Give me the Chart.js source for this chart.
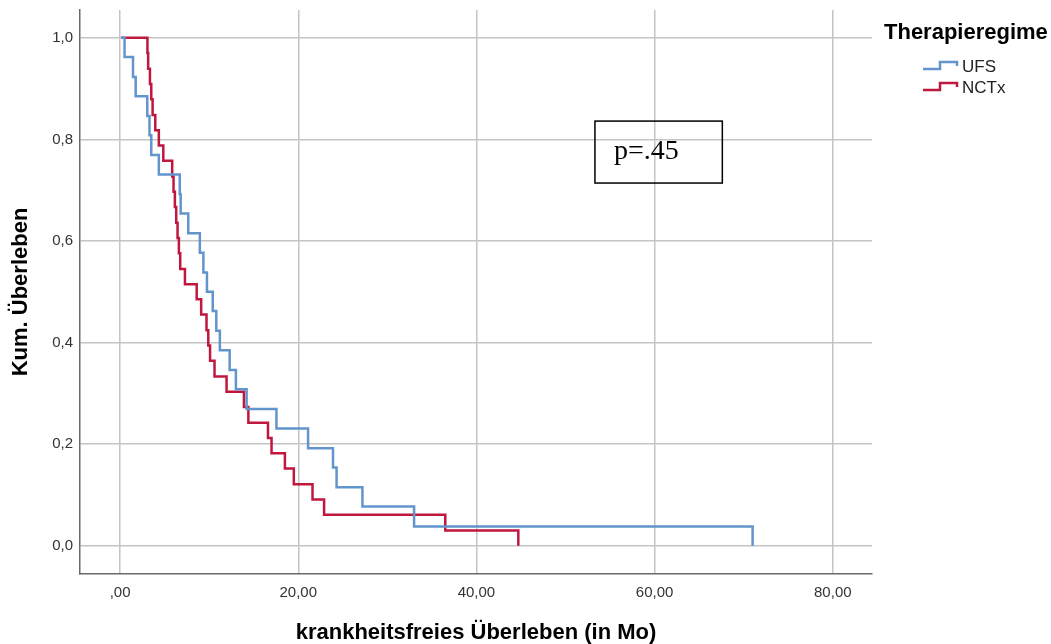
<!DOCTYPE html>
<html>
<head>
<meta charset="utf-8">
<script src="https://cdn.jsdelivr.net/npm/chart.js@4/dist/chart.umd.min.js"></script>
<style>
  html, body { margin: 0; padding: 0; background: #ffffff; }
  #wrap { position: relative; width: 1051px; height: 644px; }
</style>
</head>
<body>
<div id="wrap"><canvas id="c"></canvas></div>
<script>
// ---- data ----
const seriesNames = ['UFS', 'NCTx'];
const legendTitle = 'Therapieregime';
const pValueText = 'p=.45';
const xAxisTitle = 'krankheitsfreies Überleben (in Mo)';
const yAxisTitle = 'Kum. Überleben';

const ufsTime = [0.1, 0.5, 1.45, 1.75, 3.05, 3.3, 3.5, 4.35, 6.7, 6.8, 7.65, 8.95, 9.35, 9.75,
  10.4, 10.8, 11.2, 12.3, 13.0, 14.2, 17.55, 21.1, 23.9, 24.3, 27.2, 33.0, 71.0];
const ufsSurv = [1.0, 0.962, 0.923, 0.885, 0.846, 0.808, 0.769, 0.731, 0.692, 0.654, 0.615, 0.577, 0.538, 0.5,
  0.462, 0.423, 0.385, 0.346, 0.308, 0.269, 0.231, 0.192, 0.154, 0.115, 0.077, 0.038, 0.0];

const nctTime = [0.1, 3.07, 3.15, 3.35, 3.5, 3.65, 3.95, 4.35, 4.85, 5.85, 6.0, 6.15, 6.3, 6.45, 6.6, 6.75,
  7.28, 8.6, 9.1, 9.7, 9.9, 10.1, 10.6, 11.95, 13.9, 14.4, 16.6, 17.0, 18.5, 19.5, 21.6, 22.9, 36.5, 44.7];
const nctSurv = [1.0, 0.970, 0.939, 0.909, 0.879, 0.848, 0.818, 0.788, 0.758, 0.727, 0.697, 0.667, 0.636, 0.606, 0.576, 0.545,
  0.515, 0.485, 0.455, 0.424, 0.394, 0.364, 0.333, 0.303, 0.273, 0.242, 0.212, 0.182, 0.152, 0.121, 0.091, 0.061, 0.030, 0.0];

const xTickValues = [0, 20, 40, 60, 80];
const xTickLabels = [',00', '20,00', '40,00', '60,00', '80,00'];
const yTickValues = [0, 0.2, 0.4, 0.6, 0.8, 1.0];
const yTickLabels = ['0,0', '0,2', '0,4', '0,6', '0,8', '1,0'];

// annotation box corners in data units
const pBoxX = [53.3, 67.6];
const pBoxY = [0.836, 0.714];

// ---- styling ----
const colors = ['#6295cc', '#c0173f'];
const FONT = "'Liberation Sans', Arial, sans-serif";

function toPoints(t, s) { return t.map((v, i) => ({ x: v, y: s[i] })); }

const extras = {
  id: 'extras',
  afterDraw(chart) {
    const ctx = chart.ctx;
    const xs = chart.scales.x, ys = chart.scales.y;
    ctx.save();
    // p-value box
    const bx0 = xs.getPixelForValue(pBoxX[0]), bx1 = xs.getPixelForValue(pBoxX[1]);
    const by0 = ys.getPixelForValue(pBoxY[0]), by1 = ys.getPixelForValue(pBoxY[1]);
    ctx.strokeStyle = '#000';
    ctx.lineWidth = 1.5;
    ctx.strokeRect(bx0, by0, bx1 - bx0, by1 - by0);
    ctx.fillStyle = '#000';
    ctx.font = "28px 'Liberation Serif', 'Times New Roman', serif";
    ctx.textBaseline = 'alphabetic';
    ctx.textAlign = 'left';
    ctx.fillText(pValueText, bx0 + 19, by0 + 38);

    // legend
    const lx = chart.chartArea.right + 12;
    ctx.font = "bold 22px " + FONT;
    ctx.fillStyle = '#000';
    ctx.textBaseline = 'middle';
    ctx.fillText(legendTitle, lx, 33);
    ctx.font = "17px " + FONT;
    const rows = [67, 88];
    seriesNames.forEach((name, i) => {
      const y = rows[i];
      ctx.strokeStyle = colors[i];
      ctx.lineWidth = 2.5;
      ctx.beginPath();
      ctx.moveTo(lx + 39, y + 2);
      ctx.lineTo(lx + 56, y + 2);
      ctx.lineTo(lx + 56, y - 5);
      ctx.lineTo(lx + 73, y - 5);
      ctx.lineTo(lx + 73, y - 1);
      ctx.stroke();
      ctx.fillStyle = '#222';
      ctx.fillText(name, lx + 78, y);
    });
    ctx.restore();
  }
};

function noPad(scale) {
  scale.paddingTop = 0; scale.paddingBottom = 0;
  scale.paddingLeft = 0; scale.paddingRight = 0;
}

new Chart(document.getElementById('c'), {
  type: 'line',
  data: {
    datasets: [
      { label: seriesNames[0], data: toPoints(ufsTime, ufsSurv), borderColor: colors[0], backgroundColor: colors[0],
        borderWidth: 2.5, stepped: 'before', pointRadius: 0, fill: false },
      { label: seriesNames[1], data: toPoints(nctTime, nctSurv), borderColor: colors[1], backgroundColor: colors[1],
        borderWidth: 2.5, stepped: 'before', pointRadius: 0, fill: false }
    ]
  },
  options: {
    responsive: true,
    maintainAspectRatio: false,
    animation: false,
    devicePixelRatio: 1,
    layout: { padding: { left: 0, top: 10, right: 179, bottom: 0 } },
    plugins: { legend: { display: false }, tooltip: { enabled: false } },
    scales: {
      x: {
        type: 'linear', min: -4.5, max: 84.4,
        afterFit(scale) { scale.height = 70; noPad(scale); },
        afterBuildTicks(scale) { scale.ticks = xTickValues.map(v => ({ value: v })); },
        grid: { color: '#c4c4c4', lineWidth: 1.5, drawTicks: false },
        border: { color: '#6a6a6a', width: 1.5 },
        ticks: {
          padding: 10, color: '#333', font: { family: FONT, size: 15 }, maxRotation: 0,
          callback: (v) => xTickLabels[xTickValues.indexOf(v)]
        },
        title: { display: true, text: xAxisTitle, color: '#000', font: { family: FONT, size: 22, weight: 'bold' },
          padding: { top: 0, bottom: -2 } }
      },
      y: {
        type: 'linear', min: -0.0557, max: 1.0547,
        afterFit(scale) { scale.width = 80; noPad(scale); },
        afterBuildTicks(scale) { scale.ticks = yTickValues.map(v => ({ value: v })); },
        grid: { color: '#c4c4c4', lineWidth: 1.5, drawTicks: false },
        border: { color: '#6a6a6a', width: 1.5 },
        ticks: {
          padding: 7, color: '#333', font: { family: FONT, size: 15 },
          callback: (v) => yTickLabels[yTickValues.indexOf(v)]
        },
        title: { display: true, text: yAxisTitle, color: '#000', font: { family: FONT, size: 22, weight: 'bold' },
          padding: { top: 8, bottom: 0 } }
      }
    }
  },
  plugins: [extras]
});
</script>
</body>
</html>
